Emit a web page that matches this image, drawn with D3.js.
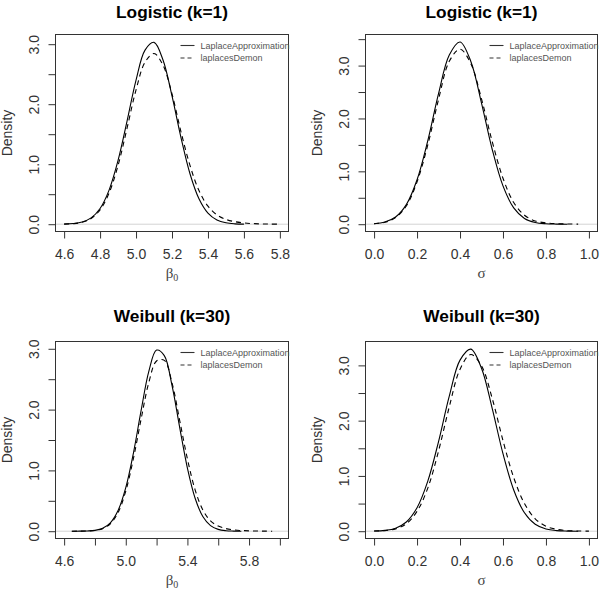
<!DOCTYPE html>
<html><head><meta charset="utf-8">
<script src="https://cdn.jsdelivr.net/npm/d3@7"></script>
<style>body{margin:0;background:#fff}</style>
</head><body>
<svg id="chart" width="600" height="592"></svg>
<script>
// ---------------- data ----------------
const panelTitles = ["Logistic (k=1)", "Logistic (k=1)", "Weibull (k=30)", "Weibull (k=30)"];
const seriesNames = ["LaplaceApproximation", "laplacesDemon"];
const paramSymbols = ["β", "σ", "β", "σ"];
const paramSubscripts = ["0", "", "0", ""];

// Logistic, beta0
const b0LogisticX = [4.60,4.65,4.70,4.75,4.80,4.85,4.90,4.95,5.00,5.05,5.10,5.15,5.20,5.25,5.30,5.35,5.40,5.45,5.50,5.55,5.60,5.65,5.70,5.75,5.80];
const b0LogisticLaplace = [0.003,0.011,0.036,0.105,0.262,0.568,1.062,1.718,2.401,2.902,3.031,2.737,2.137,1.443,0.841,0.424,0.185,0.070,0.023,0.006,0.001];
const b0LogisticDemon = [0.002,0.009,0.032,0.095,0.240,0.520,0.980,1.600,2.240,2.700,2.845,2.650,2.170,1.540,0.980,0.560,0.300,0.155,0.080,0.042,0.021,0.010,0.005,0.002,0.001];

// Logistic, sigma
const sigmaLogisticX = [0.00,0.05,0.10,0.15,0.20,0.25,0.30,0.35,0.40,0.45,0.50,0.55,0.60,0.65,0.70,0.75,0.80,0.85,0.90,0.95,1.00];
const sigmaLogisticLaplace = [0.010,0.041,0.136,0.371,0.840,1.580,2.468,3.200,3.447,3.083,2.290,1.413,0.724,0.308,0.109,0.032,0.008,0.002,0.000];
const sigmaLogisticDemon = [0.009,0.036,0.125,0.345,0.800,1.500,2.360,3.080,3.310,3.040,2.370,1.560,0.870,0.410,0.170,0.062,0.026,0.011,0.005,0.002];

// Weibull, beta0
const b0WeibullX = [4.65,4.70,4.75,4.80,4.85,4.90,4.95,5.00,5.05,5.10,5.15,5.20,5.25,5.30,5.35,5.40,5.45,5.50,5.55,5.60,5.65,5.70,5.75,5.80,5.85,5.90,5.95];
const b0WeibullLaplace = [0.000,0.001,0.004,0.014,0.048,0.138,0.340,0.716,1.290,1.991,2.632,2.979,2.888,2.398,1.705,1.038,0.542,0.242,0.092,0.030,0.008,0.002,0.000];
const b0WeibullDemon = [0.000,0.001,0.003,0.012,0.042,0.122,0.305,0.660,1.200,1.850,2.450,2.800,2.810,2.440,1.820,1.190,0.680,0.350,0.170,0.085,0.043,0.022,0.011,0.006,0.003,0.001,0.000];

// Weibull, sigma
const sigmaWeibullX = [0.00,0.05,0.10,0.15,0.20,0.25,0.30,0.35,0.40,0.45,0.50,0.55,0.60,0.65,0.70,0.75,0.80,0.85,0.90,0.95,1.00];
const sigmaWeibullLaplace = [0.004,0.015,0.055,0.167,0.425,0.906,1.622,2.444,3.095,3.294,2.948,2.218,1.402,0.746,0.333,0.125,0.040,0.010,0.002,0.000];
const sigmaWeibullDemon = [0.003,0.011,0.042,0.135,0.360,0.780,1.450,2.250,2.930,3.197,2.990,2.400,1.640,0.970,0.500,0.225,0.090,0.034,0.012,0.004,0.001];

// ticks
const xTicksB0Logistic = [4.6,4.8,5.0,5.2,5.4,5.6,5.8];
const xTicksB0Weibull = [4.6,4.8,5.0,5.2,5.4,5.6,5.8,6.0];
const xLabelsB0Weibull = [4.6,5.0,5.4,5.8];
const xTicksSigma = [0.0,0.2,0.4,0.6,0.8,1.0];
const yTicks3 = [0,0.5,1.0,1.5,2.0,2.5,3.0];
const yTicks35 = [0,0.5,1.0,1.5,2.0,2.5,3.0,3.5];

// ---------------- layout ----------------
const panels = [
  {x: b0LogisticX, a: b0LogisticLaplace, b: b0LogisticDemon, xlim: [4.6, 5.8], ylim: [0, 3.04],
   box: {l: 55.5, r: 288.5, t: 34.5, b: 231.5}, xt: xTicksB0Logistic, xl: xTicksB0Logistic, yt: yTicks3},
  {x: sigmaLogisticX, a: sigmaLogisticLaplace, b: sigmaLogisticDemon, xlim: [0, 1], ylim: [0, 3.45],
   box: {l: 365.5, r: 597.5, t: 34.5, b: 231.5}, xt: xTicksSigma, xl: xTicksSigma, yt: yTicks35},
  {x: b0WeibullX, a: b0WeibullLaplace, b: b0WeibullDemon, xlim: [4.6, 6.0], ylim: [0, 3.0],
   box: {l: 55.5, r: 288.5, t: 341.5, b: 538.5}, xt: xTicksB0Weibull, xl: xLabelsB0Weibull, yt: yTicks3},
  {x: sigmaWeibullX, a: sigmaWeibullLaplace, b: sigmaWeibullDemon, xlim: [0, 1], ylim: [0, 3.30],
   box: {l: 365.5, r: 597.5, t: 341.5, b: 538.5}, xt: xTicksSigma, xl: xTicksSigma, yt: yTicks3}
];

const svg = d3.select("#chart");
const sans = "'Liberation Sans', Arial, Helvetica, sans-serif";
const serif = "'Liberation Serif', 'DejaVu Serif', serif";

function expand(lim) { const d = (lim[1] - lim[0]) * 0.04; return [lim[0] - d, lim[1] + d]; }

panels.forEach((p, i) => {
  const B = p.box;
  const x = d3.scaleLinear().domain(expand(p.xlim)).range([B.l, B.r]);
  const y = d3.scaleLinear().domain(expand(p.ylim)).range([B.b, B.t]);
  const g = svg.append("g");

  // title
  g.append("text").attr("x", (B.l + B.r) / 2).attr("y", B.t - (i < 2 ? 16.5 : 19.5))
    .attr("text-anchor", "middle").attr("font-family", sans).attr("font-weight", "bold")
    .attr("font-size", 17.3).attr("fill", "#000").text(panelTitles[i]);

  // zero line
  g.append("line").attr("x1", B.l).attr("x2", B.r).attr("y1", y(0)).attr("y2", y(0))
    .attr("stroke", "#d4d4d4").attr("stroke-width", 1);

  // curves
  const line = (xs) => d3.line().x((d, k) => x(xs[k])).y(d => y(d)).curve(d3.curveCatmullRom);
  g.append("path").datum(p.a).attr("d", line(p.x)).attr("fill", "none")
    .attr("stroke", "#000").attr("stroke-width", 1.1);
  g.append("path").datum(p.b).attr("d", line(p.x)).attr("fill", "none")
    .attr("stroke", "#000").attr("stroke-width", 1.1).attr("stroke-dasharray", "5,4");

  // box
  g.append("rect").attr("x", B.l).attr("y", B.t).attr("width", B.r - B.l).attr("height", B.b - B.t)
    .attr("fill", "none").attr("stroke", "#333").attr("stroke-width", 1);

  // x axis
  const xa = g.append("g").attr("transform", `translate(0,${B.b})`)
    .call(d3.axisBottom(x).tickValues(p.xt).tickSize(7).tickPadding(11)
      .tickFormat(d => p.xl.some(v => Math.abs(v - d) < 1e-9) ? d.toFixed(1) : ""));
  xa.select(".domain").remove();
  xa.selectAll("line").attr("stroke", "#333");
  xa.selectAll("text").attr("font-family", sans).attr("font-size", 14).attr("fill", "#333");

  // y axis
  const ya = g.append("g").attr("transform", `translate(${B.l},0)`)
    .call(d3.axisLeft(y).tickValues(p.yt).tickSize(7)
      .tickFormat(d => Math.abs(d - Math.round(d)) < 1e-9 ? d.toFixed(1) : ""));
  ya.select(".domain").remove();
  ya.selectAll("line").attr("stroke", "#333");
  ya.selectAll("text").attr("x", null).attr("dy", null).attr("text-anchor", "middle")
    .attr("transform", "translate(-16.5,0) rotate(-90)")
    .attr("font-family", sans).attr("font-size", 14).attr("fill", "#333");

  // axis labels
  g.append("text").attr("transform", `translate(${B.l - 44},${(B.t + B.b) / 2}) rotate(-90)`)
    .attr("text-anchor", "middle").attr("font-family", sans).attr("font-size", 14)
    .attr("fill", "#333").text("Density");
  const xl = g.append("text").attr("x", (B.l + B.r) / 2).attr("y", B.b + 46.5)
    .attr("text-anchor", "middle").attr("font-family", serif).attr("font-size", 15).attr("fill", "#444");
  xl.append("tspan").text(paramSymbols[i]);
  if (paramSubscripts[i]) xl.append("tspan").attr("font-size", 10).attr("dy", 3).text(paramSubscripts[i]);

  // legend
  seriesNames.forEach((name, k) => {
    const ly = B.t + 11 + k * 12.5;
    g.append("line").attr("x1", B.r - 108).attr("x2", B.r - 94).attr("y1", ly).attr("y2", ly)
      .attr("stroke", "#333").attr("stroke-width", 1.1)
      .attr("stroke-dasharray", k === 1 ? "4,3" : null);
    g.append("text").attr("x", B.r - 88).attr("y", ly + 3.3).attr("font-family", sans)
      .attr("font-size", 9).attr("fill", "#555").text(name);
  });
});
</script>
</body></html>
